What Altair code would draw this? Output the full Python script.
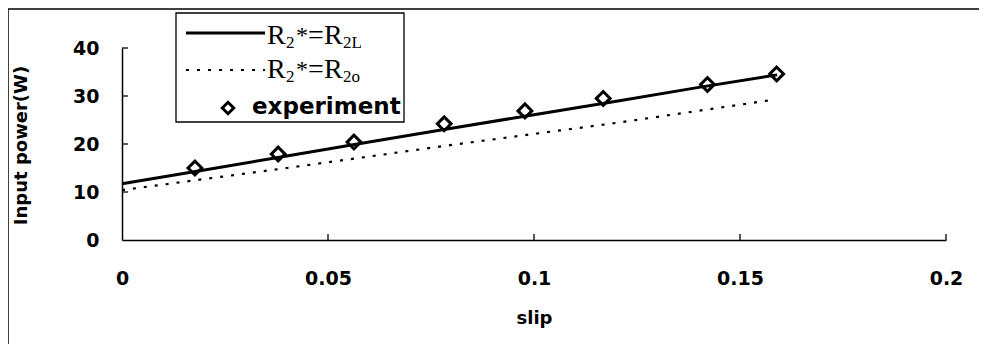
import altair as alt
import pandas as pd

# ---- data ----
slip_exp = [0.0177, 0.0379, 0.0563, 0.0782, 0.0978, 0.1168, 0.1421, 0.1589]
power_exp = [15.0, 17.9, 20.4, 24.2, 26.9, 29.5, 32.4, 34.6]

slip_L = [0.0, 0.02, 0.04, 0.06, 0.08, 0.10, 0.12, 0.14, 0.159]
power_L = [11.7, 14.6, 17.5, 20.4, 23.3, 26.1, 28.9, 31.8, 34.4]

slip_o = [0.0, 0.04, 0.08, 0.12, 0.158]
power_o = [10.4, 15.0, 19.8, 24.4, 29.2]

x_ticks = [0, 0.05, 0.1, 0.15, 0.2]
y_ticks = [0, 10, 20, 30, 40]

W, H = 824, 192
SANS = "DejaVu Sans"
SERIF = "Liberation Serif"

df_exp = pd.DataFrame({"slip": slip_exp, "power": power_exp})
df_L = pd.DataFrame({"slip": slip_L, "power": power_L})
df_o = pd.DataFrame({"slip": slip_o, "power": power_o})
df_xt = pd.DataFrame({"v": x_ticks[1:]})
df_yt = pd.DataFrame({"v": y_ticks[1:]})

xscale = alt.Scale(domain=[0, 0.2], nice=False, zero=False)
yscale = alt.Scale(domain=[0, 40], nice=False)

xax = alt.Axis(values=x_ticks, format="~g", title="slip", ticks=False, tickSize=0,
               labelPadding=29, labelFlush=False, labelOverlap=False,
               titleX=W / 2, titleY=78, titleAlign="center", titleBaseline="middle",
               titleFontSize=18)
yax = alt.Axis(values=y_ticks, title="Input power(W)", ticks=False, tickSize=0,
               labelPadding=23, labelFlush=False, labelOverlap=False,
               titleX=-101, titleY=H / 2 + 1, titleAngle=-90, titleAlign="center",
               titleBaseline="middle", titleFontSize=18)

X = alt.X("slip:Q", scale=xscale, axis=xax)
Y = alt.Y("power:Q", scale=yscale, axis=yax)

line_L = alt.Chart(df_L).mark_line(color="black", strokeWidth=3).encode(x=X, y=Y)
line_o = alt.Chart(df_o).mark_line(color="black", strokeWidth=2.2, strokeDash=[3, 8]).encode(
    x=alt.X("slip:Q", scale=xscale), y=alt.Y("power:Q", scale=yscale))
pts = alt.Chart(df_exp).mark_point(shape="diamond", size=190, filled=False, color="black",
                                   strokeWidth=3, opacity=1).encode(
    x=alt.X("slip:Q", scale=xscale), y=alt.Y("power:Q", scale=yscale))

# inward ticks
xt = alt.Chart(df_xt).mark_rule(color="black", strokeWidth=1.3).encode(
    x=alt.X("v:Q", scale=xscale), y=alt.value(H), y2=alt.value(H - 6))
yt = alt.Chart(df_yt).mark_rule(color="black", strokeWidth=1.3).encode(
    y=alt.Y("v:Q", scale=yscale), x=alt.value(0), x2=alt.value(6))

# outer frame (left and top edges)
frame_left = alt.Chart().mark_rule(color="black", strokeWidth=1.5).encode(
    x=alt.value(-114), y=alt.value(-39), y2=alt.value(320))
frame_top = alt.Chart().mark_rule(color="black", strokeWidth=1.5).encode(
    x=alt.value(-114), x2=alt.value(880), y=alt.value(-39))

# legend box
leg_box = alt.Chart().mark_rect(fill="white", stroke="black", strokeWidth=1.3).encode(
    x=alt.value(54), x2=alt.value(282), y=alt.value(-35), y2=alt.value(74))
leg_solid = alt.Chart().mark_rule(color="black", strokeWidth=2.8).encode(
    x=alt.value(64), x2=alt.value(143), y=alt.value(-15))
leg_dot = alt.Chart().mark_rule(color="black", strokeWidth=2.2, strokeDash=[3, 8]).encode(
    x=alt.value(64), x2=alt.value(143), y=alt.value(22))
leg_pt = alt.Chart().mark_point(shape="diamond", size=130, filled=False, color="black",
                                strokeWidth=3, opacity=1).encode(
    x=alt.value(106), y=alt.value(60))


def txt(s, x, y, size, font=SERIF, weight="normal"):
    return alt.Chart().mark_text(text=s, font=font, fontSize=size, fontWeight=weight,
                                 align="left", baseline="alphabetic", color="black").encode(
        x=alt.value(x), y=alt.value(y))


def formula(y0, sub):
    return [
        txt("R", 145, y0, 28),
        txt("2", 164, y0 + 4, 17),
        txt("*", 174, y0 - 1, 24),
        txt("=", 186, y0, 28),
        txt("R", 202, y0, 28),
        txt(sub, 221, y0 + 4, 17),
    ]


legend_layers = [leg_box, leg_solid, leg_dot, leg_pt] + formula(-4, "2L") + formula(30, "2o") + [
    txt("experiment", 130, 66, 23, font=SANS, weight="bold")]

chart = alt.layer(line_L, line_o, pts, xt, yt, frame_left, frame_top, *legend_layers).properties(
    width=W, height=H,
    autosize=alt.AutoSizeParams(type="none"),
    padding={"left": 114, "top": 40, "right": 33, "bottom": 104},
).configure_view(stroke=None).configure_axis(
    domainColor="black", domainWidth=1.5, grid=False,
    labelFont=SANS, labelFontWeight="bold", labelFontSize=19, labelColor="black",
    titleFont=SANS, titleFontWeight="bold", titleColor="black",
)

chart.save("out.html", embed_options={"renderer": "svg", "actions": False})
